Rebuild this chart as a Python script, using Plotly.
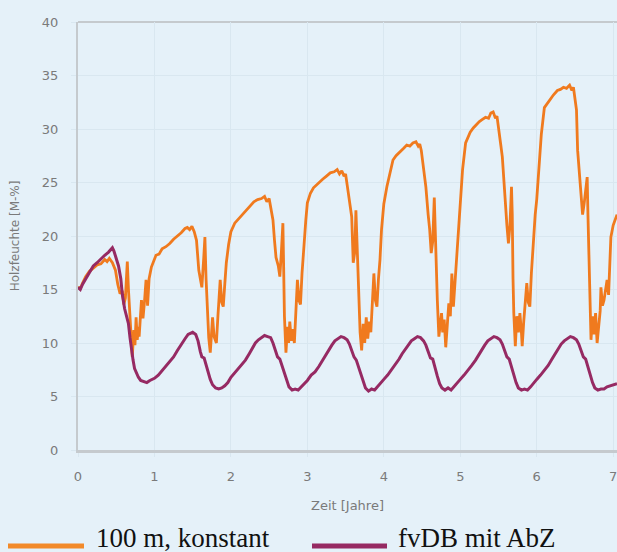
import plotly.graph_objects as go

# ---------------- data ----------------
t_orange = [
    0.00, 0.03, 0.06, 0.10, 0.15, 0.20, 0.25, 0.30, 0.35, 0.38, 0.41, 0.45, 0.49, 0.52, 0.55, 0.58, 0.60, 0.62,
    0.645, 0.66, 0.68, 0.70, 0.71, 0.73, 0.745, 0.76, 0.775, 0.79, 0.80, 0.83, 0.85, 0.87, 0.89, 0.91, 0.93, 0.96,
    0.99, 1.02, 1.06, 1.10, 1.15, 1.20, 1.25, 1.30, 1.35, 1.40, 1.43, 1.46, 1.49, 1.52, 1.55, 1.58, 1.60, 1.62,
    1.645, 1.66, 1.675, 1.69, 1.71, 1.73, 1.745, 1.76, 1.78, 1.81, 1.83, 1.86, 1.88, 1.90, 1.92, 1.94, 1.97,
    2.00, 2.05, 2.10, 2.15, 2.20, 2.25, 2.30, 2.35, 2.40, 2.44, 2.47, 2.50, 2.52, 2.55, 2.57, 2.59, 2.62, 2.64,
    2.66, 2.68, 2.69, 2.70, 2.72, 2.74, 2.755, 2.77, 2.79, 2.81, 2.83, 2.85, 2.87, 2.89, 2.91, 2.93, 2.96, 2.98,
    3.00, 3.04, 3.08, 3.12, 3.16, 3.20, 3.25, 3.30, 3.35, 3.39, 3.42, 3.45, 3.48, 3.50, 3.52, 3.55, 3.58, 3.60,
    3.62, 3.635, 3.65, 3.67, 3.69, 3.71, 3.73, 3.75, 3.77, 3.79, 3.81, 3.83, 3.85, 3.87, 3.89, 3.91, 3.93, 3.95,
    3.97, 4.00, 4.04, 4.08, 4.12, 4.16, 4.21, 4.26, 4.30, 4.34, 4.38, 4.42, 4.45, 4.47, 4.49, 4.52, 4.55, 4.58,
    4.60, 4.62, 4.64, 4.66, 4.67, 4.68, 4.70, 4.72, 4.74, 4.755, 4.77, 4.79, 4.81, 4.83, 4.85, 4.87, 4.89, 4.91,
    4.93, 4.95, 4.97, 5.00, 5.03, 5.07, 5.10, 5.13, 5.17, 5.21, 5.25, 5.29, 5.33, 5.37, 5.40, 5.43, 5.46, 5.48,
    5.50, 5.53, 5.55, 5.57, 5.59, 5.61, 5.63, 5.65, 5.67, 5.68, 5.69, 5.70, 5.72, 5.74, 5.76, 5.78, 5.80, 5.81,
    5.83, 5.85, 5.87, 5.89, 5.91, 5.93, 5.95, 5.98, 6.00, 6.03, 6.06, 6.10, 6.14, 6.18, 6.22, 6.27, 6.31, 6.35,
    6.39, 6.43, 6.46, 6.48, 6.50, 6.52, 6.535, 6.55, 6.57, 6.58, 6.60, 6.62, 6.64, 6.66, 6.67, 6.69, 6.71, 6.73,
    6.75, 6.77, 6.79, 6.81, 6.83, 6.84, 6.86, 6.88, 6.90, 6.92, 6.94, 6.97, 7.00, 7.05,
]
v_orange = [
    15.2, 15.1, 15.6, 16.2, 16.7, 17.0, 17.3, 17.4, 17.8, 17.6, 17.9, 17.5, 16.8, 15.5, 14.6, 14.9, 13.6, 14.2,
    17.6, 15.0, 12.4, 10.5, 8.7, 11.2, 9.8, 12.4, 10.3, 11.5, 10.6, 14.0, 12.3, 13.9, 15.9, 13.5, 16.0, 17.1,
    17.6, 18.2, 18.3, 18.8, 19.0, 19.3, 19.7, 20.0, 20.3, 20.7, 20.8, 20.6, 20.9, 20.4, 19.6, 16.8, 16.0, 15.2,
    18.0, 19.9, 16.0, 12.8, 10.5, 9.1, 11.0, 12.4, 10.6, 10.0, 12.5, 15.9, 13.8, 13.4, 15.5, 17.5, 19.2,
    20.4, 21.2, 21.6, 22.0, 22.4, 22.8, 23.2, 23.4, 23.5, 23.7, 23.2, 23.5, 22.7, 21.5, 19.6, 18.0, 17.2, 16.2,
    18.5, 21.2, 17.0, 12.5, 9.1, 11.5, 10.0, 12.0, 10.2, 11.3, 10.0, 13.5, 15.9, 14.0, 13.6, 16.5, 19.9, 21.5,
    23.1, 24.0, 24.5, 24.8, 25.1, 25.3, 25.6, 25.9, 26.0, 26.2, 25.8, 26.1, 25.6, 25.8, 24.8, 23.5, 21.8, 17.5,
    18.5, 22.4, 19.5, 14.5, 11.0, 9.3, 11.8, 10.0, 12.4, 10.4, 12.0, 11.0, 14.5, 16.5, 14.0, 13.4, 16.0, 17.8,
    20.6, 23.0, 24.6, 26.0, 27.1, 27.5, 27.9, 28.2, 28.5, 28.4, 28.7, 28.8, 28.4, 28.6, 28.0, 26.5, 24.6, 22.0,
    20.6, 18.4, 19.5, 23.6, 21.0, 18.4, 14.0, 10.6, 12.0, 12.8, 11.0, 12.2, 9.6, 11.8, 13.7, 12.5, 16.5, 13.4,
    15.5, 18.0, 20.6, 23.5, 26.2, 28.7, 29.3, 29.7, 30.1, 30.4, 30.7, 30.9, 31.1, 31.0, 31.5, 31.6, 31.0, 31.2,
    29.9, 28.5, 27.4, 25.0, 22.5, 21.0, 19.3, 21.0, 24.6, 22.0, 16.0, 12.8, 9.7, 12.5, 11.0, 12.8, 11.0, 9.7,
    12.0, 14.0, 15.6, 13.8, 13.4, 16.5, 19.0, 22.0, 23.4, 27.0, 29.5, 32.0, 32.4, 32.9, 33.2, 33.6, 33.7, 33.9,
    33.8, 34.1, 33.6, 33.9, 33.0, 31.8, 28.0, 26.5, 25.0, 23.4, 22.0, 23.0, 24.5, 25.5, 22.0, 15.0, 10.3, 12.5,
    10.8, 12.8, 10.0, 11.5, 13.0, 15.2, 13.5, 14.0, 15.0, 15.9, 14.5, 19.9, 21.0, 22.0,
]

t_purple = [
    0.00, 0.03, 0.06, 0.10, 0.15, 0.20, 0.25, 0.30, 0.35, 0.40, 0.43, 0.45, 0.47, 0.50, 0.53, 0.56, 0.58, 0.61,
    0.64, 0.66, 0.68, 0.70, 0.72, 0.74, 0.76, 0.79, 0.82, 0.86, 0.90, 0.94,
    1.00, 1.05, 1.10, 1.15, 1.20, 1.25, 1.30, 1.35, 1.40, 1.44, 1.47, 1.50, 1.54, 1.57, 1.60, 1.62, 1.65, 1.68,
    1.70, 1.73, 1.76, 1.80, 1.84, 1.88, 1.92, 1.96,
    2.00, 2.05, 2.10, 2.15, 2.19, 2.24, 2.28, 2.32, 2.36, 2.40, 2.44, 2.48, 2.52, 2.55, 2.58, 2.61, 2.64, 2.67,
    2.70, 2.73, 2.76, 2.80, 2.84, 2.88, 2.92, 2.96,
    3.00, 3.05, 3.10, 3.15, 3.20, 3.24, 3.28, 3.32, 3.36, 3.40, 3.44, 3.48, 3.52, 3.55, 3.58, 3.61, 3.64, 3.67,
    3.70, 3.73, 3.76, 3.80, 3.84, 3.88, 3.92, 3.96,
    4.00, 4.05, 4.10, 4.15, 4.20, 4.24, 4.28, 4.32, 4.36, 4.40, 4.44, 4.48, 4.52, 4.55, 4.58, 4.61, 4.64, 4.67,
    4.70, 4.73, 4.76, 4.80, 4.84, 4.88, 4.92, 4.96,
    5.00, 5.05, 5.10, 5.15, 5.20, 5.24, 5.28, 5.32, 5.36, 5.40, 5.44, 5.48, 5.52, 5.55, 5.58, 5.61, 5.64, 5.67,
    5.70, 5.73, 5.76, 5.80, 5.84, 5.88, 5.92, 5.96,
    6.00, 6.05, 6.10, 6.15, 6.20, 6.24, 6.28, 6.32, 6.36, 6.40, 6.44, 6.48, 6.52, 6.55, 6.58, 6.61, 6.64, 6.67,
    6.70, 6.73, 6.76, 6.80, 6.84, 6.88, 6.92, 6.96, 7.00, 7.05,
]
v_purple = [
    15.2, 15.0, 15.5, 16.0, 16.6, 17.2, 17.5, 17.9, 18.2, 18.5, 18.7, 18.9, 18.6, 17.9, 17.2, 16.0, 14.5, 13.2,
    12.3, 11.8, 10.5, 9.3, 8.4, 7.6, 7.2, 6.8, 6.5, 6.4, 6.3, 6.5,
    6.7, 7.0, 7.4, 7.8, 8.2, 8.7, 9.3, 9.9, 10.4, 10.8, 10.9, 11.0, 10.8, 10.2, 9.2, 8.7, 8.6, 7.8,
    7.2, 6.6, 6.1, 5.8, 5.7, 5.8, 6.0, 6.3,
    6.8, 7.2, 7.6, 8.0, 8.4, 9.0, 9.5, 10.0, 10.3, 10.5, 10.7, 10.6, 10.5, 10.0, 9.3, 8.7, 8.5, 7.8,
    7.1, 6.5, 5.9, 5.6, 5.7, 5.6, 5.9, 6.2,
    6.5, 7.0, 7.3, 7.8, 8.4, 8.9, 9.4, 9.8, 10.2, 10.4, 10.6, 10.5, 10.3, 9.9, 9.2, 8.7, 8.4, 7.7,
    7.0, 6.3, 5.8, 5.5, 5.7, 5.6, 5.9, 6.2,
    6.6, 7.0, 7.5, 7.9, 8.5, 9.0, 9.4, 9.9, 10.2, 10.4, 10.6, 10.5, 10.2, 9.8, 9.1, 8.6, 8.5, 7.6,
    6.9, 6.2, 5.8, 5.6, 5.8, 5.6, 5.9, 6.3,
    6.6, 7.0, 7.4, 7.9, 8.4, 8.9, 9.4, 9.8, 10.2, 10.4, 10.6, 10.5, 10.3, 9.9, 9.2, 8.7, 8.5, 7.7,
    7.0, 6.3, 5.8, 5.6, 5.7, 5.6, 5.9, 6.2,
    6.6, 7.0, 7.4, 7.9, 8.5, 9.0, 9.4, 9.9, 10.2, 10.4, 10.6, 10.5, 10.3, 9.9, 9.2, 8.7, 8.5, 7.7,
    7.0, 6.3, 5.8, 5.6, 5.7, 5.7, 5.9, 6.0, 6.1, 6.2,
]

name_orange = "100 m, konstant"
name_purple = "fvDB mit AbZ"
x_ticks = [0, 1, 2, 3, 4, 5, 6, 7]
y_ticks = [0, 5, 10, 15, 20, 25, 30, 35, 40]
x_title = "Zeit [Jahre]"
y_title = "Holzfeuchte [M-%]"

# ---------------- styling ----------------
W, H = 617, 552
ML, MR, MT, MB = 78, 0, 22, 102
PW, PH = W - ML - MR, H - MT - MB
BG = "#e5f1f9"
ORANGE = "#f07a1e"
PURPLE = "#962a63"
GRID = "#d9e7f0"
AXIS = "#c5cace"
TICKC = "#7a7a7a"


def px2x(px):
    return (px - ML) / PW


def px2y(py):
    return (H - MB - py) / PH


fig = go.Figure()
fig.add_trace(go.Scatter(x=t_orange, y=v_orange, mode="lines", name=name_orange,
                         line=dict(color=ORANGE, width=2.8), showlegend=False))
fig.add_trace(go.Scatter(x=t_purple, y=v_purple, mode="lines", name=name_purple,
                         line=dict(color=PURPLE, width=3), showlegend=False))

fig.update_layout(
    width=W, height=H,
    margin=dict(l=ML, r=MR, t=MT, b=MB, autoexpand=False),
    paper_bgcolor=BG, plot_bgcolor=BG,
    font=dict(family="DejaVu Sans", color=TICKC),
    xaxis=dict(range=[0, 7.05], tickvals=x_ticks, showgrid=True, gridcolor=GRID, gridwidth=1,
               zeroline=False, showline=True, linecolor=AXIS, linewidth=3,
               ticks="outside", ticklen=4, tickcolor=GRID, ticklabelstandoff=8,
               ticklabeloverflow="allow",
               tickfont=dict(family="DejaVu Sans", size=13, color=TICKC),
               title=dict(text=x_title, font=dict(family="DejaVu Sans", size=13, color=TICKC), standoff=19)),
    yaxis=dict(range=[0, 40], tickvals=y_ticks, showgrid=True, gridcolor=GRID, gridwidth=1,
               zeroline=False, showline=True, linecolor=AXIS, linewidth=2,
               ticks="outside", ticklen=5, tickcolor=GRID, ticklabelstandoff=10,
               tickfont=dict(family="DejaVu Sans", size=13, color=TICKC),
               title=dict(text=y_title, font=dict(family="DejaVu Sans", size=12, color=TICKC), standoff=20)),
)

# top frame line
fig.add_shape(type="line", xref="paper", yref="paper", x0=0, x1=1, y0=1, y1=1,
              line=dict(color=AXIS, width=2), layer="below")

# manual legend at the bottom
leg_y = px2y(546)
fig.add_shape(type="line", xref="paper", yref="paper", x0=px2x(8), x1=px2x(84), y0=leg_y, y1=leg_y,
              line=dict(color="#f28a2a", width=5))
fig.add_shape(type="line", xref="paper", yref="paper", x0=px2x(312), x1=px2x(387), y0=leg_y, y1=leg_y,
              line=dict(color=PURPLE, width=5))
fig.add_annotation(xref="paper", yref="paper", x=px2x(94), y=px2y(538), xanchor="left", yanchor="middle",
                   text=name_orange, showarrow=False,
                   font=dict(family="Liberation Serif", size=27, color="#111111"))
fig.add_annotation(xref="paper", yref="paper", x=px2x(396), y=px2y(538), xanchor="left", yanchor="middle",
                   text=name_purple, showarrow=False,
                   font=dict(family="Liberation Serif", size=27, color="#111111"))

fig.write_html(
    "out.html",
    config={"displayModeBar": False},
    post_script="document.body.style.margin='0';document.body.style.padding='0';"
                "document.body.style.overflow='hidden';"
                "document.documentElement.style.overflow='hidden';",
)
